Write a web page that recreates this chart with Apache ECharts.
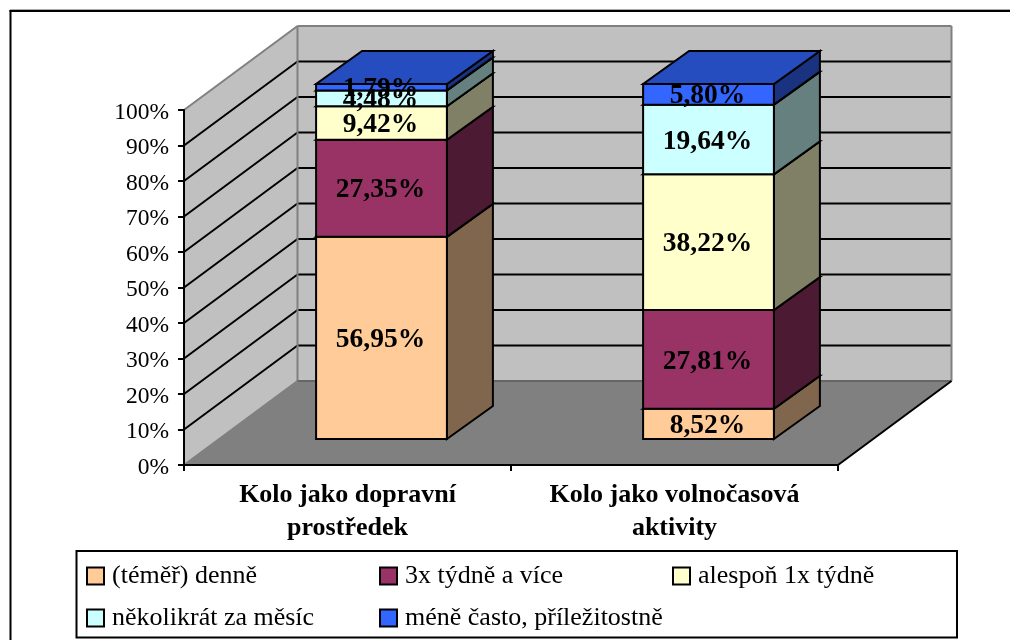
<!DOCTYPE html>
<html>
<head>
<meta charset="utf-8">
<style>html,body{margin:0;padding:0;background:#fff}#c{width:1010px;height:640px}</style>
<script src="https://cdn.jsdelivr.net/npm/echarts@6/dist/echarts.min.js"></script>
</head>
<body>
<div id="c"></div>
<script>
const categories = ['Kolo jako dopravní\nprostředek', 'Kolo jako volnočasová\naktivity'];
const denne = [56.95, 8.52];
const tydne3x = [27.35, 27.81];
const tydne1x = [9.42, 38.22];
const mesic = [4.48, 19.64];
const mene = [1.79, 5.80];
const seriesNames = ['(téměř) denně', '3x týdně a více', 'alespoň 1x týdně', 'několikrát za měsíc', 'méně často, příležitostně'];
const seriesValues = [denne, tydne3x, tydne1x, mesic, mene];
const yTicks = [0, 10, 20, 30, 40, 50, 60, 70, 80, 90, 100];
const frontColors = ['#FFCC99', '#993366', '#FFFFCC', '#CCFFFF', '#3366FF'];
const sideColors = ['#80664D', '#4D1A33', '#808066', '#668080', '#1A3380'];
const topColors = ['#BF9973', '#73264D', '#BFBF99', '#99BFBF', '#264DBF'];

const WALL = [113.5, -84];
const BAR_SHIFT = [34, -26];
const BAR_DEPTH = [46, -33];
const BAR_RATIO = 0.4;
const FONT = '"Liberation Serif","Times New Roman",serif';

function poly(points, fill, stroke, lineWidth) {
  return { type: 'polygon', shape: { points: points },
    style: { fill: fill, stroke: stroke || '#000', lineWidth: lineWidth == null ? 2 : lineWidth, lineJoin: 'miter' } };
}
function line(a, b, stroke, lineWidth) {
  return { type: 'line', shape: { x1: a[0], y1: a[1], x2: b[0], y2: b[1] },
    style: { stroke: stroke, lineWidth: lineWidth, lineCap: 'butt' } };
}
function renderWalls(params, api) {
  const catW = api.size([1, 0])[0];
  const xL = api.coord([0, 0])[0] - catW / 2;
  const xR = api.coord([1, 0])[0] + catW / 2;
  const y0 = api.coord([0, 0])[1];
  const y1 = api.coord([0, 100])[1];
  const bxL = xL + WALL[0], bxR = xR + WALL[0];
  const by0 = y0 + WALL[1], by1 = y1 + WALL[1];
  const kids = [
    poly([[xL, y0], [xL, y1], [bxL, by1], [bxL, by0]], '#C0C0C0', 'none', 0),
    poly([[bxL, by1], [bxR, by1], [bxR, by0], [bxL, by0]], '#C0C0C0', 'none', 0),
    poly([[xL, y0], [xR, y0], [bxR, by0], [bxL, by0]], '#808080', 'none', 0)
  ];
  yTicks.slice(1, -1).forEach(function (t) {
    const y = api.coord([0, t])[1];
    kids.push(line([xL, y], [bxL, y + WALL[1]], '#000', 2));
    kids.push(line([bxL, y + WALL[1]], [bxR, y + WALL[1]], '#000', 2));
  });
  kids.push(line([xL, y1], [bxL, by1], '#808080', 2));
  kids.push(line([bxL, by1], [bxR, by1], '#808080', 2));
  kids.push(line([bxR, by1], [bxR, by0], '#808080', 2));
  kids.push(line([bxL, by1], [bxL, by0], '#808080', 2));
  kids.push(line([bxL, by0], [bxR, by0], '#666', 2));
  kids.push(line([xL, y0], [bxL, by0], '#808080', 2));
  kids.push(line([xR, y0], [bxR, by0], '#000', 2));
  return { type: 'group', children: kids };
}
function renderSegment(si) {
  return function (params, api) {
    const cat = api.value(0);
    const pBase = api.coord([cat, api.value(1)]);
    const pTop = api.coord([cat, api.value(2)]);
    const w = api.size([1, 0])[0] * BAR_RATIO;
    const x0 = pBase[0] + BAR_SHIFT[0] - w / 2, x1 = x0 + w;
    const yb = pBase[1] + BAR_SHIFT[1], yt = pTop[1] + BAR_SHIFT[1];
    const dx = BAR_DEPTH[0], dy = BAR_DEPTH[1];
    const label = api.value(3).toFixed(2).replace('.', ',') + '%';
    return { type: 'group', children: [
      poly([[x1, yb], [x1 + dx, yb + dy], [x1 + dx, yt + dy], [x1, yt]], sideColors[si]),
      poly([[x0, yt], [x1, yt], [x1 + dx, yt + dy], [x0 + dx, yt + dy]], topColors[si]),
      poly([[x0, yb], [x1, yb], [x1, yt], [x0, yt]], frontColors[si]),
      { type: 'text', z2: 100, x: (x0 + x1) / 2 - 1, y: (yb + yt) / 2 + 2,
        style: { text: label, fill: '#000', align: 'center', verticalAlign: 'middle',
          font: 'bold 27.5px ' + FONT } }
    ] };
  };
}

const barSeries = seriesNames.map(function (name, si) {
  return {
    name: name, type: 'custom', clip: false, z: 2,
    renderItem: renderSegment(si),
    itemStyle: { color: frontColors[si], borderColor: '#000', borderWidth: 2 },
    encode: { x: 0, y: [1, 2] },
    data: categories.map(function (c, i) {
      let base = 0;
      for (let k = 0; k < si; k++) base += seriesValues[k][i];
      return [i, base, base + seriesValues[si][i], seriesValues[si][i]];
    })
  };
});

function legendColumn(left, names) {
  return {
    left: left, top: 563, orient: 'vertical', padding: 0,
    itemWidth: 17, itemHeight: 17, itemGap: 16, selectedMode: false,
    data: names, icon: 'rect',
    itemStyle: { borderColor: '#000', borderWidth: 2 },
    textStyle: { fontFamily: FONT, fontSize: 26, color: '#000', padding: [0, 0, 0, 3], lineHeight: 20 }
  };
}

const chart = echarts.init(document.getElementById('c'), null, { renderer: 'canvas' });
chart.setOption({
  animation: false,
  backgroundColor: '#fff',
  grid: { left: 184, top: 110, width: 654, height: 355, containLabel: false },
  xAxis: {
    type: 'category', data: categories,
    axisLine: { show: true, lineStyle: { color: '#000', width: 2 } },
    axisTick: { show: true, alignWithLabel: false, length: 6, lineStyle: { color: '#000', width: 2 } },
    axisLabel: { interval: 0, margin: 14, fontFamily: FONT, fontSize: 26, fontWeight: 'bold', color: '#000', lineHeight: 33 }
  },
  yAxis: {
    type: 'value', min: 0, max: 100, interval: 10,
    splitLine: { show: false },
    axisLine: { show: true, lineStyle: { color: '#000', width: 2 } },
    axisTick: { show: true, length: 6, lineStyle: { color: '#000', width: 2 } },
    axisLabel: { margin: 15, fontFamily: FONT, fontSize: 23.5, color: '#000', formatter: '{value}%', verticalAlign: 'top', lineHeight: 5 }
  },
  legend: [
    legendColumn(86, [seriesNames[0], seriesNames[3]]),
    legendColumn(379, [seriesNames[1], seriesNames[4]]),
    legendColumn(672, [seriesNames[2]])
  ],
  graphic: [
    { type: 'line', silent: true, shape: { x1: 10, y1: 9.5, x2: 1010, y2: 9.5 }, style: { stroke: '#aaa', lineWidth: 1 } },
    { type: 'line', silent: true, shape: { x1: 9.5, y1: 11, x2: 1010, y2: 11 }, style: { stroke: '#000', lineWidth: 2 } },
    { type: 'line', silent: true, shape: { x1: 10.5, y1: 10, x2: 10.5, y2: 640 }, style: { stroke: '#000', lineWidth: 2 } },
    { type: 'rect', silent: true, shape: { x: 76.5, y: 551, width: 880.5, height: 86.5 }, style: { fill: 'none', stroke: '#000', lineWidth: 2 } }
  ],
  series: [{
    name: 'walls', type: 'custom', clip: false, z: -1, silent: true,
    renderItem: renderWalls, encode: { x: 0, y: 1 }, data: [[0, 0]]
  }].concat(barSeries)
});
</script>
</body>
</html>
